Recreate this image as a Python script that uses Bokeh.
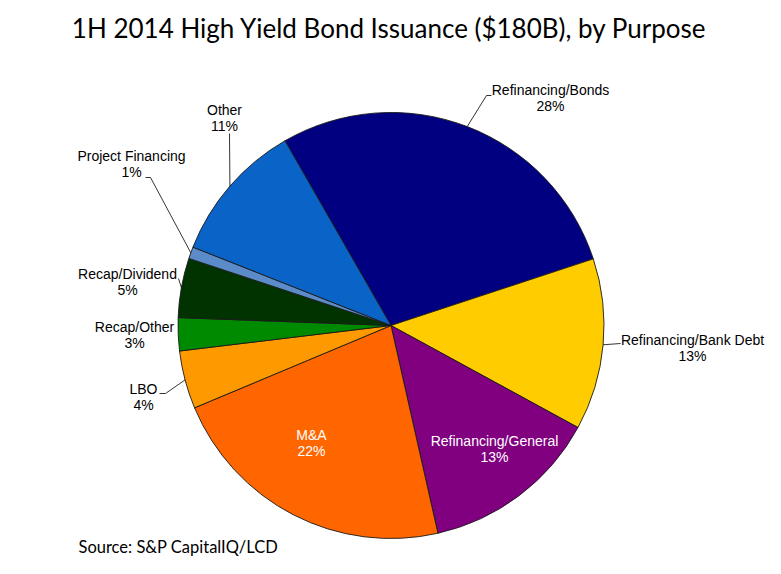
import math
from bokeh.plotting import figure
from bokeh.models import Range1d, ColumnDataSource
from bokeh.core.properties import value
from bokeh.embed import file_html
from bokeh.resources import INLINE

# ---- data ----
categories = ["Refinancing/Bonds", "Refinancing/Bank Debt", "Refinancing/General", "M&A",
              "LBO", "Recap/Other", "Recap/Dividend", "Project Financing", "Other"]
shares = [28.2, 13.0, 13.5, 22.2, 4.4, 2.5, 4.5, 0.9, 10.7]
pct_labels = ["28%", "13%", "13%", "22%", "4%", "3%", "5%", "1%", "11%"]
title_text = "1H 2014 High Yield Bond Issuance ($180B), by Purpose"
source_text = "Source: S&P CapitalIQ/LCD"

# ---- styles / layout ----
colors = ["#000080", "#FFCC00", "#800080", "#FF6600", "#FF9900",
          "#008A00", "#003300", "#5B8BC8", "#0A64C8"]
label_colors = ["#000000", "#000000", "#FFFFFF", "#FFFFFF", "#000000",
                "#000000", "#000000", "#000000", "#000000"]
# label centers (image px): x, y of first line
label_pos = [(550, 89), (692, 339), (494, 440), (311, 434), (143, 388),
             (134, 326), (127, 273), (131, 155), (224, 109)]
# leader line elbow points (image px), None = no leader
leader_pts = [[(486, 95), (491, 95)], [(620, 343)], None, None,
              [(165, 393), (159, 393)], None, [(178, 278)],
              [(150, 177), (145, 177)], [(229, 133)]]

W, H = 765, 558
CX, CY, R = 390.5, 325.0, 213.0
START = -29.85  # degrees clockwise from 12 o'clock

p = figure(width=W, height=H, output_backend="svg", toolbar_location=None,
           x_range=Range1d(0, W), y_range=Range1d(-H, 0),
           min_border=0, outline_line_color=None)
p.axis.visible = False
p.grid.visible = False
p.background_fill_color = "white"

total = sum(shares)
starts, ends, mids = [], [], []
acc = START
for s in shares:
    a0 = acc
    a1 = acc + 360.0 * s / total
    starts.append(90 - a0)
    ends.append(90 - a1)
    mids.append((a0 + a1) / 2)
    acc = a1

src = ColumnDataSource(dict(start=starts, end=ends, color=colors))
p.wedge(x=CX, y=-CY, radius=R, start_angle="start", end_angle="end",
        start_angle_units="deg", end_angle_units="deg", direction="clock",
        fill_color="color", line_color="#1a1a1a", line_width=0.9, source=src)

# leader lines
xs, ys = [], []
for m, pts in zip(mids, leader_pts):
    if pts is None:
        continue
    sx = CX + R * math.sin(math.radians(m))
    sy = CY - R * math.cos(math.radians(m))
    xs.append([sx] + [q[0] for q in pts])
    ys.append([-sy] + [-q[1] for q in pts])
p.multi_line(xs=xs, ys=ys, line_color="#000000", line_width=0.8)

lab = ColumnDataSource(dict(
    x=[q[0] for q in label_pos],
    y1=[-q[1] for q in label_pos],
    y2=[-(q[1] + 16.5) for q in label_pos],
    name=categories, pct=pct_labels, col=label_colors))
for ycol, tcol in (("y1", "name"), ("y2", "pct")):
    p.text(x="x", y=ycol, text=tcol, source=lab, text_color="col",
           text_font=value("Liberation Sans"), text_font_size="14px",
           text_align="center", text_baseline="middle")

p.text(x=[389], y=[-27], text=[title_text], text_font=value("Lato"),
       text_font_size="26px", text_align="center", text_baseline="middle",
       text_color="#000000")
p.text(x=[78], y=[-546], text=[source_text], text_font=value("Lato"),
       text_font_size="16.5px", text_align="left", text_baseline="middle",
       text_color="#000000")

open("out.html", "w").write(file_html(p, INLINE))
